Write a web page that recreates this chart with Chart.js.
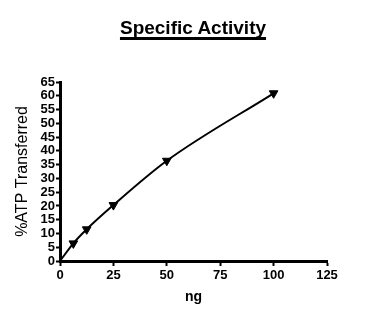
<!DOCTYPE html>
<html>
<head>
<meta charset="utf-8">
<script src="https://cdn.jsdelivr.net/npm/chart.js@4/dist/chart.umd.min.js"></script>
<style>
  html, body { margin: 0; padding: 0; background: #fff; }
  #wrap { position: relative; width: 367px; height: 333px; }
  #title {
    position: absolute; left: 0; top: 17px; width: 386px; text-align: center;
    font: bold 19px "Liberation Sans", Arial, sans-serif; color: #000;
    text-decoration: underline; text-decoration-thickness: 3px; text-underline-offset: 3px;
    text-decoration-skip-ink: none;
  }
</style>
</head>
<body>
<div id="wrap">
  <div id="title">Specific Activity</div>
  <canvas id="chart" width="367" height="333"></canvas>
</div>
<script>
// data
const amounts = [0, 6.25, 12.5, 25, 50, 100];        // ng
const transferred = [0, 6.4, 11.5, 20.3, 36.4, 60.9]; // % ATP transferred
const xTicks = [0, 25, 50, 75, 100, 125];
const yTicks = [0, 5, 10, 15, 20, 25, 30, 35, 40, 45, 50, 55, 60, 65];

const points = amounts.map((x, i) => ({ x: x, y: transferred[i] }));
const tickFont = { family: '"Liberation Sans", Arial, sans-serif', size: 13, weight: 'bold' };

new Chart(document.getElementById('chart'), {
    type: 'line',
    data: {
        datasets: [{
            data: points,
            borderColor: '#000',
            backgroundColor: '#000',
            borderWidth: 2,
            cubicInterpolationMode: 'monotone',
            pointStyle: 'triangle',
            rotation: 180,
            pointRadius: ctx => (ctx.raw && ctx.raw.x === 0 ? 0 : 5),
            pointBorderWidth: 1
        }]
    },
    options: {
        responsive: false,
        animation: false,
        layout: { padding: { left: 10, right: 40, top: 82, bottom: 23 } },
        plugins: { legend: { display: false }, tooltip: { enabled: false } },
        scales: {
            x: {
                type: 'linear',
                min: xTicks[0],
                max: xTicks[xTicks.length - 1],
                afterBuildTicks: s => { s.ticks = xTicks.map(v => ({ value: v })); },
                afterFit: s => { s.height = 49; },
                grid: { drawOnChartArea: false, tickLength: 5, tickWidth: 2, tickColor: '#000' },
                border: { color: '#000', width: 3 },
                ticks: { color: '#000', font: tickFont, padding: 2, autoSkip: false, maxRotation: 0 },
                title: { display: true, text: 'ng', color: '#000',
                         font: { family: '"Liberation Sans", Arial, sans-serif', size: 14, weight: 'bold' } }
            },
            y: {
                min: yTicks[0],
                max: yTicks[yTicks.length - 1],
                afterBuildTicks: s => { s.ticks = yTicks.map(v => ({ value: v })); },
                afterFit: s => { s.width = 50; },
                grid: { drawOnChartArea: false, tickLength: 4, tickWidth: 2, tickColor: '#000' },
                border: { color: '#000', width: 3 },
                ticks: { color: '#000', font: tickFont, padding: 1, autoSkip: false },
                title: { display: true, text: '%ATP Transferred', color: '#000', padding: 3,
                         font: { family: '"Liberation Sans", Arial, sans-serif', size: 16 } }
            }
        }
    }
});
</script>
</body>
</html>
